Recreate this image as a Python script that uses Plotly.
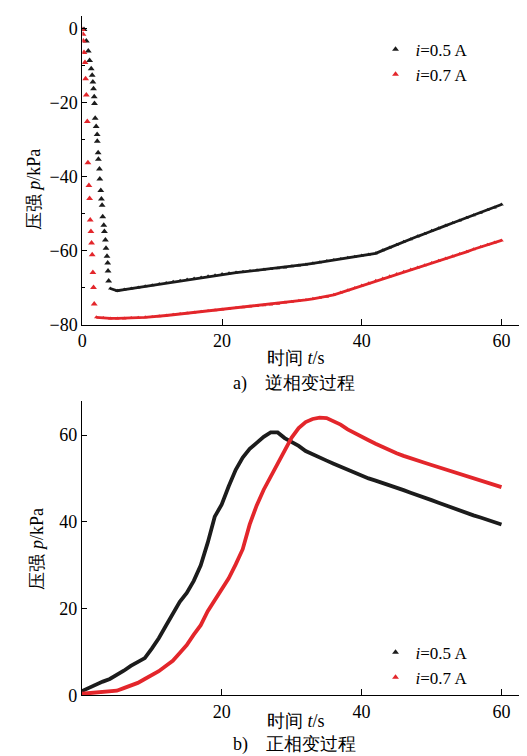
import plotly.graph_objects as go

# ---------------- data: a) reverse transformation ----------------
# fast drop phase (discrete points)
a_drop_t_05 = [0.24, 0.57, 0.85, 1.04, 1.27, 1.41, 1.51, 1.60, 1.70, 1.74, 1.84, 1.98, 2.12, 2.14,
               2.26, 2.30, 2.45, 2.50, 2.64, 2.73, 2.83, 2.92, 3.07, 3.16, 3.30, 3.39, 3.53, 3.63,
               3.68, 3.77]
a_drop_p_05 = [-0.2, -3.3, -6.0, -8.6, -10.8, -12.6, -14.4, -16.2, -18.4, -20.2, -24.2, -26.4, -28.6,
               -30.4, -33.5, -35.3, -37.9, -40.6, -43.7, -46.0, -47.7, -50.8, -53.1, -54.8, -57.1,
               -59.3, -61.5, -63.3, -65.5, -68.2]
a_drop_t_07 = [0.0, 0.09, 0.14, 0.24, 0.38, 0.47, 0.57, 0.71, 0.80, 0.94, 1.04, 1.13, 1.23, 1.32,
               1.41, 1.51, 1.60, 1.70]
a_drop_p_07 = [-0.2, -1.5, -3.3, -6.4, -9.1, -13.5, -17.9, -25.1, -36.2, -42.4, -45.9, -51.7, -54.8,
               -57.9, -61.1, -65.9, -69.9, -74.4]

# slow phase
a_t_05 = [4] + list(range(5, 61))
a_p_05 = [-70.2, -70.8, -70.5, -70.2, -69.9, -69.6, -69.3, -69.0, -68.7, -68.4, -68.1, -67.8, -67.5,
          -67.2, -66.9, -66.6, -66.3, -66.1, -65.9, -65.7, -65.5, -65.3, -65.1, -64.9, -64.7, -64.5,
          -64.2, -64.0, -63.7, -63.4, -63.1, -62.8, -62.5, -62.2, -61.9, -61.6, -61.3, -61.0, -60.7,
          -59.9, -59.1, -58.4, -57.6, -56.9, -56.1, -55.4, -54.6, -53.9, -53.2, -52.5, -51.8, -51.1,
          -50.4, -49.7, -49.0, -48.3, -47.5]
a_t_07 = list(range(2, 61))
a_p_07 = [-78.0, -78.2, -78.3, -78.3, -78.3, -78.2, -78.1, -78.0, -77.9, -77.7, -77.5, -77.3, -77.1,
          -76.9, -76.7, -76.5, -76.3, -76.1, -75.9, -75.7, -75.5, -75.3, -75.1, -74.9, -74.7, -74.5,
          -74.3, -74.0, -73.8, -73.5, -73.3, -73.0, -72.7, -72.4, -71.9, -71.3, -70.7, -70.1, -69.4,
          -68.8, -68.1, -67.5, -66.9, -66.3, -65.7, -65.1, -64.5, -63.9, -63.3, -62.7, -62.1, -61.5,
          -60.9, -60.3, -59.6, -59.0, -58.4, -57.8, -57.2]

# ---------------- data: b) forward transformation ----------------
b_t = list(range(0, 61))
b_p_05 = [1.0, 1.8, 2.6, 3.2, 3.8, 4.7, 5.7, 6.8, 7.6, 8.6, 10.8, 13.2, 16.0, 18.8, 21.6, 23.6, 26.4,
          30.0, 35.2, 41.2, 44.0, 48.2, 52.0, 54.8, 56.8, 58.2, 59.6, 60.6, 60.6, 59.3, 58.5, 57.5,
          56.3, 55.5, 54.8, 54.1, 53.4, 52.7, 51.9, 51.2, 50.6, 50.0, 49.5, 49.0, 48.4, 47.9, 47.3,
          46.7, 46.2, 45.6, 45.0, 44.4, 43.8, 43.1, 42.6, 42.0, 41.5, 41.0, 40.4, 39.9, 39.4]
b_p_07 = [0.4, 0.5, 0.6, 0.7, 0.9, 1.1, 1.7, 2.3, 2.9, 3.8, 4.7, 5.6, 6.8, 8.0, 9.8, 11.6, 14.0, 16.2,
          19.4, 22.0, 24.7, 27.0, 30.2, 33.7, 39.4, 43.8, 47.4, 50.5, 53.5, 56.5, 59.4, 61.6, 63.0,
          63.7, 64.0, 63.9, 63.2, 62.4, 61.3, 60.4, 59.6, 58.8, 58.0, 57.2, 56.4, 55.8, 55.2, 54.6,
          54.1, 53.6, 53.1, 52.6, 52.1, 51.6, 51.1, 50.6, 50.0, 49.5, 49.0, 48.5, 48.0]

series_names = ["<i>i</i>=0.5 A", "<i>i</i>=0.7 A"]
colors = ["#1c1c1c", "#e3262b"]

x_ticks_a = [0, 20, 40, 60]
y_ticks_a = [0, -20, -40, -60, -80]
y_minor_a = [-10, -30, -50, -70]
x_ticks_b = [20, 40, 60]
y_ticks_b = [0, 20, 40, 60]

SERIF = "Liberation Serif"
W, H = 527, 756

fig = go.Figure()

# top chart: drop phase carries the legend entries
for tt, pp, c, nm in [(a_drop_t_05, a_drop_p_05, colors[0], series_names[0]),
                      (a_drop_t_07, a_drop_p_07, colors[1], series_names[1])]:
    fig.add_trace(go.Scatter(x=tt, y=pp, mode="markers", xaxis="x", yaxis="y", name=nm,
                             showlegend=True, legend="legend",
                             marker=dict(symbol="triangle-up", size=6, color=c)))
for tt, pp, c in [(a_t_05, a_p_05, colors[0]), (a_t_07, a_p_07, colors[1])]:
    fig.add_trace(go.Scatter(x=tt, y=pp, mode="lines+markers", xaxis="x", yaxis="y", showlegend=False,
                             line=dict(color=c, width=2.8),
                             marker=dict(symbol="triangle-up", size=4, color=c)))

# bottom chart
for pp, c in [(b_p_05, colors[0]), (b_p_07, colors[1])]:
    fig.add_trace(go.Scatter(x=b_t, y=pp, mode="lines", xaxis="x2", yaxis="y2", showlegend=False,
                             line=dict(color=c, width=3.8)))
# bottom legend entries (legend-only symbols)
for c, nm in zip(colors, series_names):
    fig.add_trace(go.Scatter(x=[None], y=[None], mode="markers", xaxis="x2", yaxis="y2", name=nm,
                             showlegend=True, legend="legend2",
                             marker=dict(symbol="triangle-up", size=6, color=c)))

def py(px):
    return 1 - px / H

def axis_common():
    return dict(showline=True, linecolor="black", linewidth=1, showgrid=False, zeroline=False,
                ticks="inside", tickcolor="black",
                tickfont=dict(family=SERIF, size=18, color="black"))

legend_common = dict(xanchor="left", yanchor="top", bgcolor="rgba(0,0,0,0)", borderwidth=0,
                     font=dict(family=SERIF, size=17, color="black"), itemwidth=30,
                     tracegroupgap=0, traceorder="normal")

fig.update_layout(
    width=W, height=H, margin=dict(l=0, r=0, t=0, b=0),
    paper_bgcolor="white", plot_bgcolor="white",
    xaxis=dict(domain=[70 / W, 520 / W], anchor="y", range=[0, 63.8], tickvals=x_ticks_a,
               ticklen=6, **axis_common()),
    yaxis=dict(domain=[py(321), py(8)], anchor="x", range=[-80, 3.47], tickvals=y_ticks_a,
               ticklen=5, minor=dict(tickvals=y_minor_a, ticks="inside", ticklen=3, tickcolor="black"),
               **axis_common()),
    xaxis2=dict(domain=[69.5 / W, 520 / W], anchor="y2", range=[0, 63.8], tickvals=x_ticks_b,
                ticklen=6, **axis_common()),
    yaxis2=dict(domain=[py(696.7), py(398)], anchor="x2", range=[0, 67.9], tickvals=y_ticks_b,
                ticklen=5, **axis_common()),
    legend=dict(x=366 / W, y=py(24), **legend_common),
    legend2=dict(x=366 / W, y=py(635), **legend_common),
)

ann = []
def add_text(text, x, y, size=18, angle=0, xanchor="center", color="black"):
    ann.append(dict(text=text, x=x / W, y=py(y), xref="paper", yref="paper", showarrow=False,
                    xanchor=xanchor, yanchor="middle", textangle=angle,
                    font=dict(family=SERIF, size=size, color=color)))

add_text("时间 <i>t</i>/s", 286, 355)
add_text("a)    逆相变过程", 284, 381)
add_text("压强 <i>p</i>/kPa", 21, 184, angle=-90)
add_text("时间 <i>t</i>/s", 286, 723)
add_text("b)    正相变过程", 284, 746)
add_text("压强 <i>p</i>/kPa", 24, 548, angle=-90)

fig.update_layout(annotations=ann)
fig.write_html("out.html")
